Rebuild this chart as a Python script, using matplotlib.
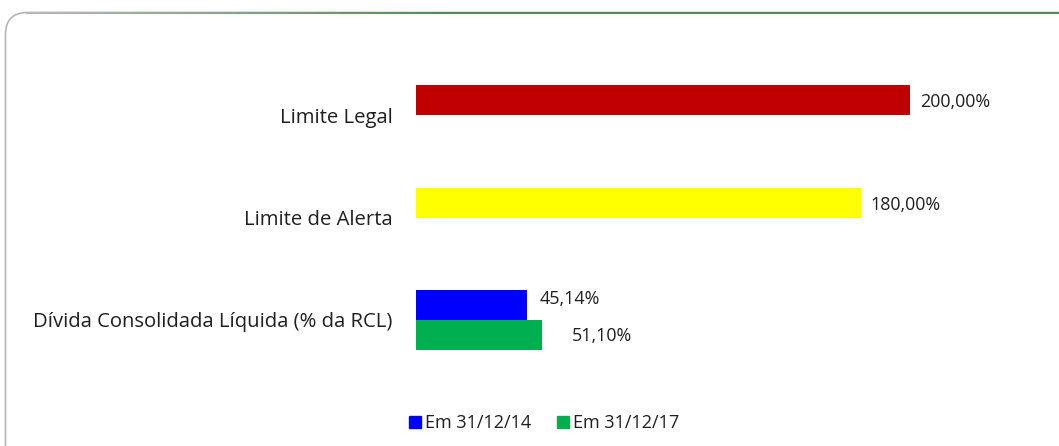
import numpy as np
import matplotlib.pyplot as plt
from matplotlib.patches import FancyBboxPatch
from matplotlib.lines import Line2D
from matplotlib.collections import LineCollection

plt.rcParams['font.family'] = ['Open Sans', 'DejaVu Sans']

categories = ['Limite Legal', 'Limite de Alerta', 'Dívida Consolidada Líquida (% da RCL)']
top_values = [200.00, 180.00, 45.14]
top_colors = ['#C00000', '#FFFF00', '#0000FF']
bottom_values = [np.nan, np.nan, 51.10]
series_names = ['Em 31/12/14', 'Em 31/12/17']
series_colors = ['#0000FF', '#00B050']
text_color = '#1f1f1f'

W, H = 1059, 446
fig = plt.figure(figsize=(W / 100, H / 100), dpi=100)

# background axes in pixel units for the rounded frame
bg = fig.add_axes([0, 0, 1, 1], zorder=-10)
bg.set_xlim(0, W)
bg.set_ylim(H, 0)
bg.axis('off')
bg.add_patch(FancyBboxPatch((5.5, 12.5), W + 40, H + 40,
                            boxstyle='round,pad=0,rounding_size=22',
                            facecolor='white', edgecolor='#b5b5b5', linewidth=1.2))
xs = np.linspace(26, W, 80)
segs = [[(xs[i], 12.5), (xs[i + 1], 12.5)] for i in range(len(xs) - 1)]
t = np.linspace(0, 1, len(segs))
gray = np.array([0.72, 0.72, 0.72])
green = np.array([0.33, 0.55, 0.33])
cols = [tuple(gray + (green - gray) * min(1, v * 2.5)) for v in t]
bg.add_collection(LineCollection(segs, colors=cols, linewidths=1.5))

ax_left, ax_right = 416, 910
ax_top, ax_bot = 63.75, 371.25
ax = fig.add_axes([ax_left / W, 1 - ax_bot / H, (ax_right - ax_left) / W, (ax_bot - ax_top) / H])
ax.set_facecolor('none')

y = np.arange(len(categories))
h = 30 / 102.5
ax.barh(y - h / 2, top_values, height=h, color=top_colors)
ax.barh(y + h / 2, bottom_values, height=h, color=series_colors[1])

ax.set_xlim(0, 200)
ax.set_ylim(len(categories) - 0.5, -0.5)
ax.set_yticks(y)
ax.set_yticklabels(categories, fontsize=14.6, color=text_color)
ax.tick_params(axis='y', length=0, pad=17)
ax.set_xticks([])
for s in ax.spines.values():
    s.set_visible(False)

def fmt(v):
    return f'{v:.2f}'.replace('.', ',') + '%'

# label offsets (points) as Excel placed them
offsets = [(7, -1.5), (7, -1.5), (9, 4)]
for i, v in enumerate(top_values):
    ax.annotate(fmt(v), (v, y[i] - h / 2), xytext=offsets[i], textcoords='offset points',
                va='center', ha='left', fontsize=12.9, color=text_color)
for i, v in enumerate(bottom_values):
    if not np.isnan(v):
        ax.annotate(fmt(v), (v, y[i] + h / 2), xytext=(21, -1), textcoords='offset points',
                    va='center', ha='left', fontsize=12.9, color=text_color)

handles = [Line2D([], [], marker='s', linestyle='none', markersize=8.6, color=c) for c in series_colors]
fig.legend(handles, series_names, loc='center', bbox_to_anchor=(544 / W, 1 - 423 / H),
           ncol=2, frameon=False, fontsize=13, handlelength=0.7, handletextpad=0.2,
           columnspacing=1.4, labelcolor=text_color)

fig.savefig('out.png', dpi=100)
